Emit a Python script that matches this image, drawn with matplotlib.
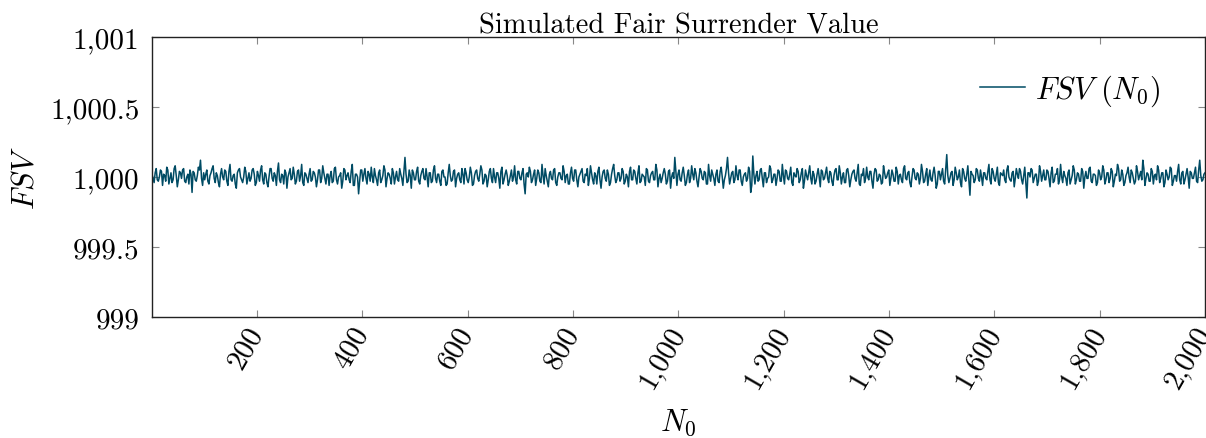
import numpy as np
import matplotlib
matplotlib.use('Agg')
import matplotlib.pyplot as plt

plt.rcParams['font.family'] = 'serif'
plt.rcParams['font.serif'] = ['cmr10']
plt.rcParams['mathtext.fontset'] = 'cm'
plt.rcParams['axes.unicode_minus'] = False
plt.rcParams['axes.formatter.use_mathtext'] = True

# Simulated fair surrender value (deviation from 1000 in hundredths)
# even samples
fsv_dev_a = [
    2, -4, 6, -3, 5, -6, 1, 7, -5, 3, -2, 8, -7, 4, -1, 6, -4, 2, 5, -11, 3, -3, 7, 12, -6,
    -2, 5, -5, 3, 8, -4, 1, -7, 6, -2, 4, -6, 9, -3, 2, -8, 5, 0, -4, 7, -5, 3, -1, 6, -6,
    4, -3, 8, -5, 2, -7, 6, -1, 3, -6, 10, -4, 1, 5, -8, 3, -2, 7, -5, 4, -3, 9, -6, 2, -4,
    6, -2, 3, -7, 5, -4, 8, -1, 2, -6, 4, -3, 7, -5, 1, -8, 6, -2, 3, -4, 9, -6, 2, -12, 5,
    -3, 6, -5, 2, 7, -4, 1, -6, 5, -2, 8, -7, 3, -1, 6, -5, 4, -3, 2, -6, 14, -4, 5, -8, 3,
    -2, 7, -5, 4, -1, 6, -7, 3, -3, 8, -4, 2, -6, 5, 0, -5, 9, -3, 4, -7, 2, -2, 6, -5, 3,
    -4, 7, -6, 1, 5, -3, 8, -5, 2, -7, 4, -1, 6, -4, 3, -8, 7, -2, 5, -6, 1, -3, 8, -5, 4,
    -2, 6, -12, 3, 7, -4, 2, -6, 5, -3, 9, -5, 1, -7, 4, -2, 6, -6, 3, -1, 8, -4, 2, -5, 7,
    -3, 5, -7, 2, 6, -4, 1, -6, 8, -2, 3, -5, 7, -8, 4, -1, 5, -6, 2, 9, -4, 3, -3, 6, -5,
    2, -7, 7, -2, 4, -5, 8, -3, 1, -6, 5, -4, 3, -2, 9, -7, 2, -1, 6, -5, 4, -8, 3, 14, -6,
    5, -3, 7, -6, 2, -4, 8, -2, 3, -7, 6, -1, 4, -5, 9, -3, 2, -6, 5, -4, 7, -8, 1, 14, -5,
    3, -4, 8, -2, 5, -6, 2, -3, 7, -11, 15, -5, 4, -2, 6, -7, 3, -1, 8, -4, 2, -6, 5, -3, 9,
    -5, 4, -2, 7, -6, 1, 6, -4, 3, -8, 5, -2, 8, -5, 2, -3, 6, -7, 4, -1, 7, -4, 3, -6, 5,
    -2, 8, -5, 3, -4, 6, -7, 2, 5, -3, 9, -6, 1, -4, 7, -2, 4, -8, 6, -3, 2, -5, 8, -1, 3,
    -6, 5, -3, 7, -5, 2, -4, 8, -2, 4, -7, 6, -1, 3, -5, 9, -4, 2, -6, 5, -3, 7, -8, 4, -2,
    6, -5, 16, -4, 3, -6, 7, -2, 5, -7, 4, -3, 8, -13, 2, -4, 6, -1, 5, -6, 3, -2, 9, -5, 4,
    -3, 7, -6, 2, 5, -4, 8, -2, 3, -7, 6, -1, 4, -5, 7, -15, 3, 6, -4, 2, -6, 8, -3, 5, -2,
    4, -7, 7, -3, 2, -5, 9, -4, 1, -6, 5, -2, 8, -5, 3, -3, 6, -8, 4, -1, 7, -4, 2, -6, 5,
    -2, 8, -5, 3, -4, 6, -7, 2, 9, -3, 5, -6, 1, 7, -4, 3, -5, 8, -2, 4, 12, -6, 3, -3, 6,
    -5, 2, 8, -4, 3, -7, 5, -2, 7, -6, 1, -3, 9, -5, 4, -2, 6, -8, 3, -1, 7, -4, 12, -3, 2,
]
# odd samples
fsv_dev_b = [
    -1, 3, -2, 0, 4, 2, -3, 5, -1, -4, 6, 1, -2, 3, 5, -3, 0, -5, 2, 4, -2, 1, 5, -1, 3,
    2, -3, 1, 6, -1, 3, -4, 2, 0, 5, -3, 4, -2, 1, -5, 3, 6, -2, 0, 4, -1, -3, 5, 2, -4,
    1, 5, -2, 3, -4, 0, 6, -3, 1, 4, -2, 2, -5, 3, 0, 6, -1, 2, -3, 5, 1, -4, 3, -1, 2,
    -3, 4, 0, -2, 5, -1, 3, -5, 2, 1, -4, 6, -2, 0, 3, -3, 5, 1, -2, 4, -6, 2, 0, -3, 5,
    2, -1, 4, -3, 0, 6, -2, 3, -4, 1, 5, -1, 2, -5, 3, 0, -2, 6, -1, 4, 2, -3, 1, 5, -2,
    4, -3, 1, 6, -2, 0, 3, -4, 5, -1, 2, -3, 4, 0, -6, 3, 1, -2, 5, -1, 3, -4, 2, 6, -2,
    0, 3, -5, 4, -1, 2, 5, -3, 1, -2, 6, -4, 0, 3, -1, 4, -5, 2, 1, -3, 5, 0, -2, 4, -1,
    3, -5, 2, 0, 4, -2, 5, -1, 3, -4, 1, 6, -3, 2, -1, 5, -4, 0, 3, -2, 4, 1, -5, 3, -1,
    5, -2, 0, 4, -3, 2, 6, -1, 3, -5, 1, 4, -2, 0, 5, -3, 2, -4, 6, 1, -2, 3, -1, 4, -3,
    0, 4, -2, 5, -1, 3, -4, 2, 0, 6, -3, 1, 4, -2, 5, -1, -4, 3, 2, -3, 5, 0, -1, 4, 2,
    -2, 3, 1, -4, 5, -1, 2, 6, -3, 0, 4, -2, 3, -5, 1, 5, -1, 2, -3, 4, 0, -2, 6, 3, -1,
    4, -2, 1, 5, -3, 0, 3, -1, 4, -6, 2, 1, -3, 5, -1, 3, -4, 0, 6, -2, 2, -1, 4, -3, 1,
    5, -1, 2, -4, 3, 0, 4, -2, 6, -3, 1, 3, -1, 4, -5, 2, 0, 5, -2, 3, -1, 4, -3, 1, 6,
    -2, 3, 0, -4, 5, 1, -2, 4, -1, 3, -5, 2, 6, -1, 0, 4, -3, 2, 5, -2, 1, -4, 3, 0, 5,
    -1, 2, -3, 4, 1, -2, 6, -1, 3, -4, 0, 5, -2, 2, -1, 4, -3, 6, 0, -2, 3, 1, -5, 4, 2,
    -3, 5, 1, -1, 4, -2, 3, 0, -4, 6, -1, 2, -3, 4, 1, -2, 5, -3, 0, 3, -1, 4, -2, 6, -1,
    2, -4, 3, 1, -2, 5, 0, -3, 4, -1, 2, 6, -2, 1, -4, 3, 0, 5, -1, 2, -3, 4, 1, -2, 5,
    -1, 3, -4, 2, 6, -2, 0, 4, -1, 3, -5, 1, 5, -2, 2, -3, 4, 0, -1, 6, -3, 2, 1, -4, 3,
    0, 5, -2, 3, -1, 4, -3, 1, 6, -2, 2, -4, 3, 0, 5, -1, -3, 4, 1, -2, 6, -1, 2, -3, 4,
    1, -2, 5, -1, 3, -4, 2, 0, 6, -3, 1, 4, -2, 3, -5, 2, 0, 4, -1, 3, -3, 5, 1, -2, 3,
]
n0_first, n0_last = 1, 2000

fsv_dev = np.column_stack([fsv_dev_a, fsv_dev_b]).ravel()
fsv = 1000 + fsv_dev / 100.0
n0 = np.linspace(n0_first, n0_last, len(fsv))

xticks = [200, 400, 600, 800, 1000, 1200, 1400, 1600, 1800, 2000]
xtick_labels = ['200', '400', '600', '800', '1,000', '1,200', '1,400', '1,600', '1,800', '2,000']
yticks = [999, 999.5, 1000, 1000.5, 1001]
ytick_labels = ['999', '999.5', '1,000', '1,000.5', '1,001']

line_color = '#004B64'

fig = plt.figure(figsize=(12.06, 4.39), dpi=100, facecolor='white')
ax = fig.add_axes([152 / 1206, 1 - 318 / 439, 1053 / 1206, 280 / 439])

ax.plot(n0, fsv, color=line_color, linewidth=1.1, label=r'$FSV\ (N_0)$')

ax.set_xlim(n0_first, n0_last)
ax.set_ylim(999, 1001)
ax.set_xticks(xticks)
ax.set_xticklabels(xtick_labels, rotation=60, ha='right', va='center',
                   rotation_mode='anchor', fontsize=21)
ax.set_yticks(yticks)
ax.set_yticklabels(ytick_labels, fontsize=21)

ax.tick_params(direction='in', length=5, width=0.8, color='#888888',
               top=True, right=True, pad=9)
ax.tick_params(axis='x', pad=8)
for s in ax.spines.values():
    s.set_linewidth(1.0)
    s.set_color('#222222')

ax.set_title('Simulated Fair Surrender Value', fontsize=20.5, pad=3)
ax.set_xlabel(r'$N_0$', fontsize=22, labelpad=10)
ax.set_ylabel(r'$FSV$', fontsize=22, labelpad=8)

ax.legend(loc='upper right', frameon=False, fontsize=22, handlelength=1.5,
          handletextpad=0.3, bbox_to_anchor=(0.983, 0.97))

fig.savefig('out.png', dpi=100, facecolor='white')
